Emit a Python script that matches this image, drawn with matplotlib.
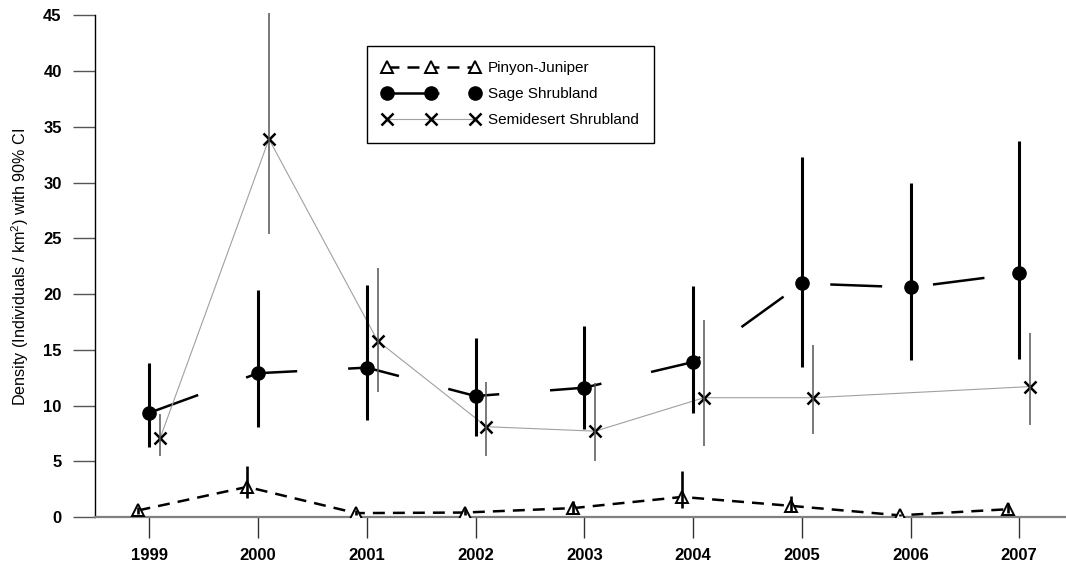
import matplotlib
matplotlib.use("Agg")
import matplotlib.pyplot as plt
import numpy as np

plt.rcParams['font.family'] = ['Liberation Sans', 'DejaVu Sans']
plt.rcParams['mathtext.fontset'] = 'custom'
plt.rcParams['mathtext.rm'] = 'Liberation Sans'
plt.rcParams['lines.scale_dashes'] = False

years = [1999, 2000, 2001, 2002, 2003, 2004, 2005, 2006, 2007]

# Pinyon-Juniper density and 90% CI
pj_years = [1999, 2000, 2001, 2002, 2003, 2004, 2005, 2006, 2007]
pj_dens = [0.6, 2.7, 0.35, 0.4, 0.8, 1.8, 1.0, 0.15, 0.7]
pj_lo = [0.3, 1.7, 0.15, 0.2, 0.4, 0.8, 0.5, 0.05, 0.4]
pj_hi = [0.9, 4.6, 0.6, 0.7, 1.4, 4.1, 1.9, 0.3, 1.25]

# Sage Shrubland density and 90% CI
ss_years = [1999, 2000, 2001, 2002, 2003, 2004, 2005, 2006, 2007]
ss_dens = [9.35, 12.9, 13.4, 10.85, 11.6, 13.9, 20.95, 20.6, 21.85]
ss_lo = [6.3, 8.05, 8.7, 7.3, 7.9, 9.3, 13.5, 14.1, 14.15]
ss_hi = [13.8, 20.4, 20.8, 16.1, 17.1, 20.75, 32.3, 30.0, 33.7]

# Semidesert Shrubland density and 90% CI (no 2006 estimate)
sd_years = [1999, 2000, 2001, 2002, 2003, 2004, 2005, 2007]
sd_dens = [7.1, 33.9, 15.8, 8.1, 7.7, 10.7, 10.7, 11.7]
sd_lo = [5.5, 25.4, 11.2, 5.5, 5.05, 6.4, 7.45, 8.25]
sd_hi = [9.2, 45.2, 22.3, 12.1, 12.0, 17.7, 15.4, 16.5]

labels = ['Pinyon-Juniper', 'Sage Shrubland', 'Semidesert Shrubland']

W, H = 1066, 566
fig = plt.figure(figsize=(W / 100, H / 100), dpi=100)
ax_left, ax_bottom, ax_top = 95, 517, 2
ax = fig.add_axes([ax_left / W, (H - ax_bottom) / H,
                   (W - ax_left) / W, (ax_bottom - ax_top) / H])

ax.set_xlim(1998.5, 2007.43)
ax.set_ylim(0, 46.2)

shift = 0.1
pj_x = np.array(pj_years) - shift
ss_x = np.array(ss_years, dtype=float)
sd_x = np.array(sd_years) + shift

# series lines and markers
l_pj, = ax.plot(pj_x, pj_dens, color='black', lw=1.8, ls=(0, (8.6, 5.8)),
                marker='^', ms=8, mfc='white', mec='black', mew=1.4,
                zorder=3, label=labels[0])
l_ss, = ax.plot(ss_x, ss_dens, color='black', lw=1.8, ls=(0, (37.4, 36.7)),
                marker='o', ms=9.5, mfc='black', mec='black',
                zorder=3, label=labels[1])
l_sd, = ax.plot(sd_x, sd_dens, color='#a0a0a0', lw=0.8,
                marker='x', ms=9, mec='black', mew=1.8,
                zorder=3, label=labels[2])

# confidence intervals, drawn over the markers
ax.vlines(ss_x, ss_lo, ss_hi, color='black', lw=2.2, zorder=4)
ax.vlines(pj_x, pj_lo, pj_hi, color='black', lw=1.9, zorder=4)
ax.vlines(sd_x, sd_lo, sd_hi, color='#555555', lw=1.1, zorder=4)

# axes styling
for side in ['top', 'right']:
    ax.spines[side].set_visible(False)
ax.spines['left'].set_bounds(0, 45)
ax.spines['left'].set_linewidth(1.0)
ax.spines['left'].set_color('black')
ax.spines['bottom'].set_color('#808080')
ax.spines['bottom'].set_linewidth(1.6)

ax.set_xticks(years)
ax.set_xticklabels([str(y) for y in years])
ax.set_yticks(np.arange(0, 46, 5))
ax.tick_params(axis='x', direction='out', length=15, width=1.0, color='#333333',
               pad=7, labelsize=12)
ax.tick_params(axis='y', direction='out', length=16, width=1.0, color='#555555',
               pad=8, labelsize=12)
for t in ax.get_xticklabels() + ax.get_yticklabels():
    t.set_fontweight('bold')

fig.text(20 / W, 1 - 267 / H,
         r'Density (Individuals / km$^\mathregular{2}$) with 90% CI',
         rotation=90, ha='center', va='center', fontsize=11.6)

leg = ax.legend(handles=[l_pj, l_ss, l_sd], loc='upper left',
                bbox_to_anchor=(367 / W, 1 - 45.7 / H),
                bbox_transform=fig.transFigure, borderaxespad=0,
                numpoints=3, handlelength=6.4, handletextpad=0.5,
                fontsize=11, labelspacing=0.8, borderpad=1.0,
                fancybox=False, framealpha=1, edgecolor='black')
leg.get_frame().set_linewidth(1.0)

fig.savefig('out.png', dpi=100)
